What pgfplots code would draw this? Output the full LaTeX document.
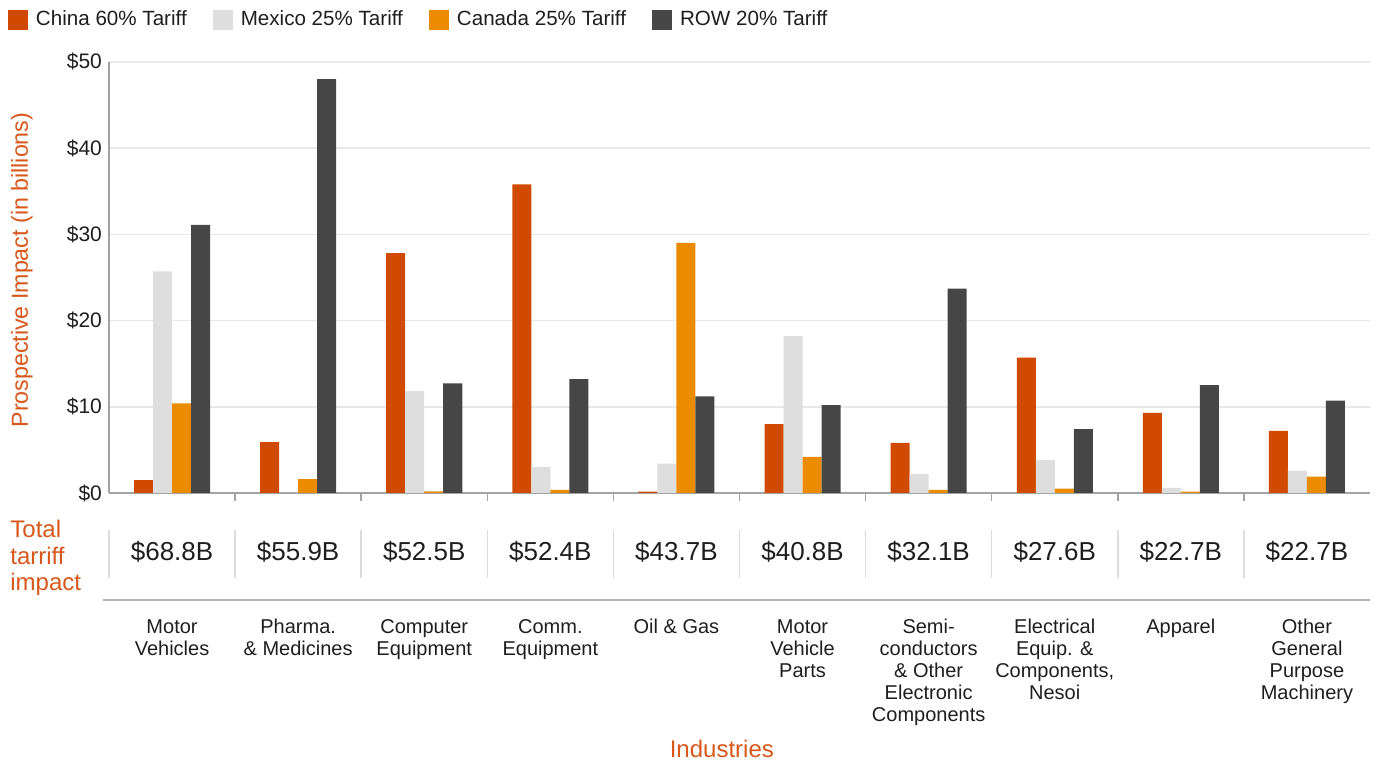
\documentclass[border=0pt]{standalone}
\usepackage{pgfplots}
\pgfplotsset{compat=1.18}
\usepackage{fontspec}
\setmainfont{Liberation Sans}
\definecolor{cChina}{HTML}{D04A02}
\definecolor{cMex}{HTML}{DEDEDE}
\definecolor{cCan}{HTML}{EB8C00}
\definecolor{cRow}{HTML}{464646}
\definecolor{cOr}{HTML}{D8571A}
\definecolor{cTxt}{HTML}{1E1E1E}
\definecolor{cAx}{HTML}{A3A3A3}
\definecolor{cGrid}{HTML}{E8E8E8}
\definecolor{cSep}{HTML}{DCDCDC}
\begin{document}
\begin{tikzpicture}
\useasboundingbox (-54.5pt,-135.5pt) rectangle (633.5pt,246.5pt);
\begin{axis}[
  at={(0pt,0pt)}, anchor=south west,
  width=630.5pt, height=215.6pt, scale only axis,
  xmin=-0.5, xmax=9.5, ymin=0, ymax=50,
  clip=false,
  axis x line*=bottom, axis y line*=left,
  axis line style={cAx, line width=0.75pt},
  ytick={0,10,20,30,40,50},
  yticklabels={\$0,\$10,\$20,\$30,\$40,\$50},
  yticklabel style={font=\fontsize{10.5}{12}\selectfont, text=cTxt},
  ytick style={draw=none},
  ymajorgrids, grid style={cGrid, line width=0.75pt},
  xtick={0.5,1.5,2.5,3.5,4.5,5.5,6.5,7.5,8.5},
  xticklabels={},
  xtick style={cAx, line width=0.75pt},
  major tick length=4pt, tick align=inside,
  ybar, bar width=9.5pt,
  legend columns=4,
  legend style={at={(-0.0801,1.098)}, anchor=west, draw=none, fill=none,
    inner sep=0pt, outer sep=0pt,
    font=\fontsize{10.3}{12}\selectfont, text=cTxt,
    nodes={inner sep=0pt},
    /tikz/every odd column/.append style={column sep=4pt},
    /tikz/every even column/.append style={column sep=13pt}},
  legend image code/.code={\fill[#1] (0pt,-5pt) rectangle (10pt,5pt);},
]
\addplot[fill=cChina, draw=none, bar shift=-14.25pt] coordinates
  {(0,1.5) (1,5.9) (2,27.8) (3,35.8) (4,0.15) (5,8.0) (6,5.8) (7,15.7) (8,9.3) (9,7.2)};
\addlegendentry{China 60\% Tariff}
\addplot[fill=cMex, draw=none, bar shift=-4.75pt] coordinates
  {(0,25.7) (1,0) (2,11.8) (3,3.0) (4,3.4) (5,18.2) (6,2.2) (7,3.8) (8,0.6) (9,2.6)};
\addlegendentry{Mexico 25\% Tariff}
\addplot[fill=cCan, draw=none, bar shift=4.75pt] coordinates
  {(0,10.4) (1,1.6) (2,0.2) (3,0.35) (4,29.0) (5,4.2) (6,0.35) (7,0.5) (8,0.15) (9,1.9)};
\addlegendentry{Canada 25\% Tariff}
\addplot[fill=cRow, draw=none, bar shift=14.25pt] coordinates
  {(0,31.1) (1,48.0) (2,12.7) (3,13.2) (4,11.2) (5,10.2) (6,23.7) (7,7.4) (8,12.5) (9,10.7)};
\addlegendentry{ROW 20\% Tariff}

% y label
\node[rotate=90, font=\fontsize{11.6}{13}\selectfont, text=cOr] at (axis cs:-1.19,25.85) {Prospective Impact (in billions)};
% total row label
\node[anchor=north west, align=left, inner sep=0pt, font=\fontsize{12}{13.3}\selectfont, text=cOr] at (axis cs:-1.285,-3.13) {Total\\tarriff\\impact};
% separators
\draw[cSep, line width=0.75pt] (axis cs:-0.5,-4.29) -- (axis cs:-0.5,-9.85);
\draw[cSep, line width=0.75pt] (axis cs:0.5,-4.29) -- (axis cs:0.5,-9.85);
\draw[cSep, line width=0.75pt] (axis cs:1.5,-4.29) -- (axis cs:1.5,-9.85);
\draw[cSep, line width=0.75pt] (axis cs:2.5,-4.29) -- (axis cs:2.5,-9.85);
\draw[cSep, line width=0.75pt] (axis cs:3.5,-4.29) -- (axis cs:3.5,-9.85);
\draw[cSep, line width=0.75pt] (axis cs:4.5,-4.29) -- (axis cs:4.5,-9.85);
\draw[cSep, line width=0.75pt] (axis cs:5.5,-4.29) -- (axis cs:5.5,-9.85);
\draw[cSep, line width=0.75pt] (axis cs:6.5,-4.29) -- (axis cs:6.5,-9.85);
\draw[cSep, line width=0.75pt] (axis cs:7.5,-4.29) -- (axis cs:7.5,-9.85);
\draw[cSep, line width=0.75pt] (axis cs:8.5,-4.29) -- (axis cs:8.5,-9.85);
% horizontal rule
\draw[cAx!80, line width=0.75pt] (axis cs:-0.548,-12.4) -- (axis cs:9.5,-12.4);
% totals
\begin{scope}[every node/.style={font=\fontsize{13}{15}\selectfont, text=cTxt}]
\node at (axis cs:0,-6.84) {\$68.8B};
\node at (axis cs:1,-6.84) {\$55.9B};
\node at (axis cs:2,-6.84) {\$52.5B};
\node at (axis cs:3,-6.84) {\$52.4B};
\node at (axis cs:4,-6.84) {\$43.7B};
\node at (axis cs:5,-6.84) {\$40.8B};
\node at (axis cs:6,-6.84) {\$32.1B};
\node at (axis cs:7,-6.84) {\$27.6B};
\node at (axis cs:8,-6.84) {\$22.7B};
\node at (axis cs:9,-6.84) {\$22.7B};
\end{scope}
% category labels
\begin{scope}[every node/.style={anchor=north, align=center, inner sep=0pt, font=\fontsize{10}{11}\selectfont, text=cTxt}]
\node at (axis cs:0,-14.6) {Motor\\Vehicles};
\node at (axis cs:1,-14.6) {Pharma.\\\& Medicines};
\node at (axis cs:2,-14.6) {Computer\\Equipment};
\node at (axis cs:3,-14.6) {Comm.\\Equipment};
\node at (axis cs:4,-14.6) {Oil \& Gas};
\node at (axis cs:5,-14.6) {Motor\\Vehicle\\Parts};
\node at (axis cs:6,-14.6) {Semi-\\conductors\\\& Other\\Electronic\\Components};
\node at (axis cs:7,-14.6) {Electrical\\Equip. \&\\Components,\\Nesoi};
\node at (axis cs:8,-14.6) {Apparel};
\node at (axis cs:9,-14.6) {Other\\General\\Purpose\\Machinery};
\end{scope}
\node[font=\fontsize{12}{14}\selectfont, text=cOr] at (axis cs:4.36,-29.7) {Industries};
\end{axis}
\end{tikzpicture}
\end{document}
